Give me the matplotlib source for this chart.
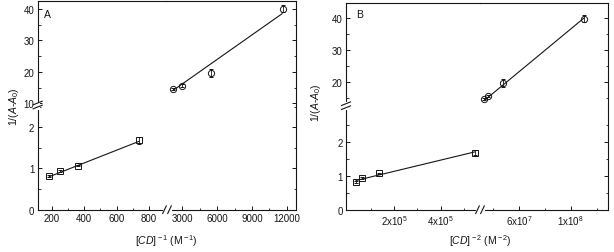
import matplotlib
matplotlib.use("Agg")
import matplotlib.pyplot as plt
from matplotlib.lines import Line2D
from matplotlib.transforms import Affine2D
from matplotlib.ticker import FixedLocator, FixedFormatter

plt.rcParams['font.family'] = ['Liberation Sans', 'DejaVu Sans']
plt.rcParams['mathtext.fontset'] = 'custom'
plt.rcParams['mathtext.rm'] = 'Liberation Sans'
plt.rcParams['mathtext.it'] = 'Liberation Sans:italic'
plt.rcParams['mathtext.bf'] = 'Liberation Sans:bold'

# ---------------- data ----------------
# Panel A : 1/(A-A0) vs [CD]^-1
A_lo_x = [185, 250, 365, 740]
A_lo_y = [0.81, 0.94, 1.07, 1.68]
A_lo_err = [0.02, 0.02, 0.02, 0.08]
A_lo_fit_x = [185, 740]
A_lo_fit_y = [0.80, 1.66]
A_hi_x = [2160, 3000, 5500, 11650]
A_hi_y = [14.5, 15.6, 19.7, 40.1]
A_hi_err = [0.3, 0.4, 1.2, 1.1]
A_hi_fit_x = [2200, 11600]
A_hi_fit_y = [14.1, 38.5]

# Panel B : 1/(A-A0) vs [CD]^-2
B_lo_x = [0.38e5, 0.64e5, 1.37e5, 5.45e5]
B_lo_y = [0.81, 0.93, 1.07, 1.68]
B_lo_err = [0.02, 0.02, 0.02, 0.08]
B_lo_fit_x = [0.38e5, 5.45e5]
B_lo_fit_y = [0.86, 1.70]
B_hi_x = [3.3e7, 3.6e7, 4.75e7, 1.1e8]
B_hi_y = [14.7, 15.8, 19.8, 39.8]
B_hi_err = [0.3, 0.4, 1.2, 1.1]
B_hi_fit_x = [3.3e7, 1.1e8]
B_hi_fit_y = [14.3, 39.9]

A_xticks_lo = [200, 400, 600, 800]
A_xticks_hi = [3000, 6000, 9000, 12000]
A_xtl_hi = ['3000', '6000', '9000', '12000']
A_yticks_lo = [0, 1, 2]
A_yticks_hi = [10, 20, 30, 40]
B_xticks_lo = [2e5, 4e5]
B_xtl_lo = [r'2x10$^{5}$', r'4x10$^{5}$']
B_xticks_hi = [6e7, 1e8]
B_xtl_hi = [r'6x10$^{7}$', r'1x10$^{8}$']
B_yticks_lo = [0, 1, 2]
B_yticks_hi = [20, 30, 40]

W, H = 614, 253
fig = plt.figure(figsize=(W / 100, H / 100), dpi=100)
pix = Affine2D().scale(1 / W, -1 / H).translate(0, 1) + fig.transFigure

C = '#151515'
FS = 7


def fx(p):
    return p / W


def fy(p):
    return 1 - p / H


def panel(left, right, top, bottom, xs, ys, xlo, xhi, ylo, yhi,
          xt_lo, xtl_lo, xm_lo, xt_hi, xtl_hi, xm_hi,
          yt_lo, ym_lo, yt_hi, ym_hi):
    bl = fig.add_axes([fx(left), fy(bottom), fx(xs) - fx(left), fy(ys) - fy(bottom)])
    br = fig.add_axes([fx(xs), fy(bottom), fx(right) - fx(xs), fy(ys) - fy(bottom)])
    tl = fig.add_axes([fx(left), fy(ys), fx(xs) - fx(left), fy(top) - fy(ys)])
    tr = fig.add_axes([fx(xs), fy(ys), fx(right) - fx(xs), fy(top) - fy(ys)])
    for a in (bl, br, tl, tr):
        a.patch.set_alpha(0)
        for s in a.spines.values():
            s.set_linewidth(0.8)
            s.set_color(C)
        a.tick_params(which='both', direction='in', colors=C, labelsize=FS,
                      top=False, bottom=False, left=False, right=False,
                      labelbottom=False, labelleft=False, pad=2.5)
        a.tick_params(which='major', length=3, width=0.7)
        a.tick_params(which='minor', length=1.8, width=0.6)
    bl.set_xlim(*xlo); tl.set_xlim(*xlo)
    br.set_xlim(*xhi); tr.set_xlim(*xhi)
    bl.set_ylim(*ylo); br.set_ylim(*ylo)
    tl.set_ylim(*yhi); tr.set_ylim(*yhi)
    bl.spines['top'].set_visible(False); bl.spines['right'].set_visible(False)
    br.spines['top'].set_visible(False); br.spines['left'].set_visible(False)
    tl.spines['bottom'].set_visible(False); tl.spines['right'].set_visible(False)
    tr.spines['bottom'].set_visible(False); tr.spines['left'].set_visible(False)
    bl.xaxis.set_major_locator(FixedLocator(xt_lo))
    bl.xaxis.set_major_formatter(FixedFormatter(xtl_lo))
    bl.xaxis.set_minor_locator(FixedLocator(xm_lo))
    bl.tick_params(which='both', bottom=True, labelbottom=True)
    br.xaxis.set_major_locator(FixedLocator(xt_hi))
    br.xaxis.set_major_formatter(FixedFormatter(xtl_hi))
    br.xaxis.set_minor_locator(FixedLocator(xm_hi))
    br.tick_params(which='both', bottom=True, labelbottom=True)
    for a in (bl, br):
        a.yaxis.set_major_locator(FixedLocator(yt_lo))
        a.yaxis.set_minor_locator(FixedLocator(ym_lo))
    for a in (tl, tr):
        a.yaxis.set_major_locator(FixedLocator(yt_hi))
        a.yaxis.set_minor_locator(FixedLocator(ym_hi))
    bl.tick_params(which='both', left=True, labelleft=True)
    tl.tick_params(which='both', left=True, labelleft=True)
    br.tick_params(which='both', right=True)
    tr.tick_params(which='both', right=True)
    for a in (tl, tr):
        a.xaxis.set_major_locator(FixedLocator([]))
        a.xaxis.set_minor_locator(FixedLocator([]))
    return bl, br, tl, tr


def draw(ax, x, y, err, fx_, fy_, marker, ms):
    ax.plot(fx_, fy_, color=C, lw=0.8, zorder=2)
    ax.errorbar(x, y, yerr=err, fmt=marker, ms=ms, mfc='none', mec=C, mew=0.7,
                ecolor=C, elinewidth=0.6, capsize=1.6, capthick=0.6, zorder=3)


def xbreak(xc, yc):
    fig.add_artist(Line2D([xc - 3, xc + 3], [yc, yc], color='white', lw=2.2, transform=pix))
    for dx in (-2.5, 2.5):
        fig.add_artist(Line2D([xc + dx - 1.8, xc + dx + 1.8], [yc + 3.8, yc - 3.8],
                              color=C, lw=0.8, transform=pix))


def ybreak(xc, yc):
    fig.add_artist(Line2D([xc, xc], [yc - 2.5, yc + 2.5], color='white', lw=2.2, transform=pix))
    for dy in (-2.0, 2.0):
        fig.add_artist(Line2D([xc - 4.5, xc + 4.5], [yc + dy + 1.8, yc + dy - 1.8],
                              color=C, lw=0.8, transform=pix))


# ---------------- Panel A ----------------
aL, aR, aT, aB, aXS, aYS = 37.7, 296, 2, 210.7, 166, 106
bl, br, tl, tr = panel(aL, aR, aT, aB, aXS, aYS,
                       (114, 905), (1585, 12802), (0, 2.54), (9.45, 42.55),
                       A_xticks_lo, [str(v) for v in A_xticks_lo], [300, 500, 700],
                       A_xticks_hi, A_xtl_hi, [4500, 7500, 10500],
                       A_yticks_lo, [0.5, 1.5, 2.5], A_yticks_hi, [15, 25, 35])
draw(bl, A_lo_x, A_lo_y, A_lo_err, A_lo_fit_x, A_lo_fit_y, 's', 4.0)
draw(tr, A_hi_x, A_hi_y, A_hi_err, A_hi_fit_x, A_hi_fit_y, 'o', 4.5)
xbreak(aXS + 1, aB)
ybreak(aL, aYS)
fig.text(fx(47), fy(15), 'A', fontsize=7.5, color=C, ha='center', va='center')
fig.text(fx(14), fy(107), r'1/($\mathit{A}$-$\mathit{A}_{\rm 0}$)', rotation=90,
         fontsize=7.5, color=C, ha='center', va='center')
fig.text(fx((aL + aR) / 2), fy(241), r'[$\mathit{CD}$]$^{\rm -1}$ (M$^{\rm -1}$)',
         fontsize=7.5, color=C, ha='center', va='center')

# ---------------- Panel B ----------------
bL, bR, bT, bB, bXS, bYS = 346, 608.3, 4, 210.7, 480, 106.7
bl2, br2, tl2, tr2 = panel(bL, bR, bT, bB, bXS, bYS,
                           (-5600, 5.68e5), (2.98e7, 1.291e8), (0, 3.06), (12.72, 44.67),
                           B_xticks_lo, B_xtl_lo, [1e5, 3e5, 5e5],
                           B_xticks_hi, B_xtl_hi, [4e7, 8e7, 1.2e8],
                           B_yticks_lo, [0.5, 1.5, 2.5], B_yticks_hi, [15, 25, 35])
draw(bl2, B_lo_x, B_lo_y, B_lo_err, B_lo_fit_x, B_lo_fit_y, 's', 4.0)
draw(tr2, B_hi_x, B_hi_y, B_hi_err, B_hi_fit_x, B_hi_fit_y, 'o', 4.5)
xbreak(bXS, bB)
ybreak(bL, bYS)
fig.text(fx(360), fy(15), 'B', fontsize=7.5, color=C, ha='center', va='center')
fig.text(fx(316), fy(103), r'1/($\mathit{A}$-$\mathit{A}_{\rm 0}$)', rotation=90,
         fontsize=7.5, color=C, ha='center', va='center')
fig.text(fx((bL + bR) / 2 + 3), fy(241), r'[$\mathit{CD}$]$^{\rm -2}$ (M$^{\rm -2}$)',
         fontsize=7.5, color=C, ha='center', va='center')

fig.savefig('out.png', dpi=100)
